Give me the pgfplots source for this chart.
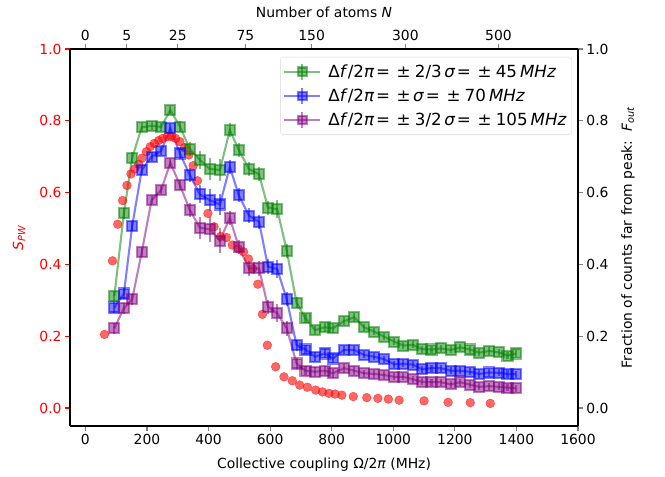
\documentclass[border=0pt]{standalone}
\usepackage{fontspec}
\setmainfont{DejaVu Sans}
\usepackage{pgfplots}
\pgfplotsset{compat=1.18}
\usepackage{pgfplotstable}

\definecolor{mgreen}{RGB}{0,128,0}
\definecolor{mblue}{RGB}{0,0,255}
\definecolor{mpurple}{RGB}{128,0,128}

\pgfplotstableread{
x y e
94 .312 .015
125 .542 .015
152 .697 .015
183 .782 .012
215 .786 .012
246 .783 .012
276 .830 .012
307 .784 .015
339 .722 .02
372 .691 .025
404 .666 .03
437 .663 .03
469 .774 .02
498 .719 .02
531 .666 .02
564 .651 .02
593 .558 .02
623 .554 .025
654 .438 .02
686 .293 .015
715 .250 .012
746 .217 .012
777 .225 .012
804 .222 .012
840 .242 .012
873 .253 .012
905 .225 .01
938 .213 .01
970 .199 .01
1003 .185 .01
1033 .174 .01
1064 .176 .01
1093 .164 .01
1124 .163 .01
1154 .166 .01
1187 .162 .01
1217 .169 .01
1250 .163 .01
1279 .154 .01
1312 .159 .01
1344 .155 .01
1371 .146 .01
1398 .152 .01
}\greendata

\pgfplotstableread{
x y e
94 .280 .015
125 .319 .015
152 .507 .015
183 .663 .012
215 .700 .012
246 .716 .012
276 .779 .012
307 .709 .015
339 .649 .02
372 .595 .025
404 .579 .03
437 .567 .03
469 .672 .02
498 .593 .02
531 .536 .02
564 .519 .02
593 .394 .02
623 .387 .025
654 .303 .02
686 .175 .015
715 .163 .012
746 .143 .012
777 .152 .012
804 .138 .012
840 .162 .012
873 .162 .012
905 .148 .01
938 .143 .01
970 .136 .01
1003 .122 .01
1033 .123 .01
1064 .121 .01
1093 .108 .01
1124 .111 .01
1154 .111 .01
1187 .104 .01
1217 .104 .01
1250 .101 .01
1279 .095 .01
1312 .099 .01
1344 .098 .01
1371 .095 .01
1398 .094 .01
}\bluedata

\pgfplotstableread{
x y e
94 .222 .015
125 .278 .015
152 .303 .015
183 .434 .012
215 .579 .012
246 .607 .012
276 .683 .012
307 .621 .015
339 .552 .02
372 .502 .03
404 .498 .035
437 .466 .035
469 .530 .02
498 .449 .02
531 .389 .02
564 .389 .02
593 .282 .02
623 .264 .025
654 .222 .02
686 .124 .015
715 .104 .012
746 .101 .012
777 .104 .012
804 .097 .012
840 .111 .012
873 .104 .012
905 .097 .01
938 .095 .01
970 .092 .01
1003 .087 .01
1033 .087 .01
1064 .080 .01
1093 .073 .01
1124 .072 .01
1154 .072 .01
1187 .066 .01
1217 .072 .01
1250 .065 .01
1279 .059 .01
1312 .061 .01
1344 .059 .01
1371 .057 .01
1398 .055 .01
}\purpledata

\pgfplotstableread{
x y
62 .205
88 .410
105 .512
121 .578
135 .620
148 .652
160 .666
173 .679
184 .696
198 .714
211 .728
224 .737
238 .745
251 .751
266 .756
280 .756
293 .751
307 .742
322 .725
336 .705
350 .675
364 .633
398 .542
418 .505
439 .478
458 .475
477 .454
497 .443
514 .435
530 .415
543 .388
560 .345
575 .261
591 .175
618 .115
645 .087
672 .076
696 .064
721 .058
748 .050
770 .045
791 .041
811 .039
833 .036
870 .032
914 .029
950 .027
984 .025
1019 .022
1100 .020
1178 .016
1250 .015
1315 .013
}\reddata

\begin{document}
\begin{tikzpicture}[font=\fontsize{13.9bp}{16bp}\selectfont]
\pgfplotsset{
  every axis/.append style={
    scale only axis, width=508bp, height=377bp,
    xmin=-50, xmax=1600, ymin=-0.05, ymax=1.0,
    tick align=outside, major tick length=4.9bp,
    every tick/.append style={line width=1.1bp},
    axis line style={line width=1.1bp, black},
    /pgf/number format/assume math mode=true,
    minor tick num=0,
  },
}
\begin{axis}[
  axis x line*=bottom, axis y line*=left,
  xtick={0,200,400,600,800,1000,1200,1400,1600},
  ytick={0,0.2,0.4,0.6,0.8,1},
  xticklabel style={/pgf/number format/1000 sep={}},
  yticklabel style={red, /pgf/number format/fixed, /pgf/number format/fixed zerofill, /pgf/number format/precision=1},
  y tick style={red},
  xlabel={Collective coupling Ω/2\textit{π} (MHz)},
  xlabel style={at={(axis description cs:0.5,-0.1034)}, anchor=center},
  ylabel={\textcolor{red}{\textit{S}\textsubscript{\textit{PW}}}},
  ylabel style={at={(axis description cs:-0.1004,0.5)}, anchor=center},
  legend style={at={(axis description cs:0.988,0.979)}, anchor=north east,
    draw=black!15, rounded corners=3bp, fill=white, fill opacity=0.8, text opacity=1,
    inner xsep=3bp, inner ysep=5.5bp, row sep=6bp, cells={anchor=west},
    font=\fontsize{16.7bp}{19bp}\selectfont},
  legend image code/.code={
    \draw[#1, mark=none] (0bp,0bp) -- (36bp,0bp);
    \draw[#1, mark=none] (18bp,-8bp) -- (18bp,8bp);
    \draw[#1, only marks, mark size=4.2bp] plot coordinates {(18bp,0bp)};
  },
]
\coordinate (SW) at (rel axis cs:0,0);
\coordinate (NE) at (rel axis cs:1,1);

\addplot[only marks, mark=*, mark size=4.4bp, color=red, opacity=0.6, forget plot] table[x=x, y=y] {\reddata};

\addplot[color=mgreen, opacity=0.5, line width=2.1bp, mark=square*, mark size=5bp,
  error bars/.cd, y dir=both, y explicit, error mark=none,
  error bar style={line width=2.1bp, mgreen}]
  table[x=x, y=y, y error=e] {\greendata};
\addlegendentry{\hspace{5bp}Δ\textit{f}/2\textit{π}\hspace{0.1em}=\hspace{0.4em}±\hspace{0.25em}2/3\hspace{0.15em}\textit{σ}\hspace{0.1em}=\hspace{0.4em}±\hspace{0.25em}45\hspace{0.18em}\textit{MHz}}

\addplot[color=mblue, opacity=0.5, line width=2.1bp, mark=square*, mark size=5bp,
  error bars/.cd, y dir=both, y explicit, error mark=none,
  error bar style={line width=2.1bp, mblue}]
  table[x=x, y=y, y error=e] {\bluedata};
\addlegendentry{\hspace{5bp}Δ\textit{f}/2\textit{π}\hspace{0.1em}=\hspace{0.4em}±\hspace{0.15em}\textit{σ}\hspace{0.1em}=\hspace{0.4em}±\hspace{0.25em}70\hspace{0.18em}\textit{MHz}}

\addplot[color=mpurple, opacity=0.5, line width=2.1bp, mark=square*, mark size=5bp,
  error bars/.cd, y dir=both, y explicit, error mark=none,
  error bar style={line width=2.1bp, mpurple}]
  table[x=x, y=y, y error=e] {\purpledata};
\addlegendentry{\hspace{5bp}Δ\textit{f}/2\textit{π}\hspace{0.1em}=\hspace{0.4em}±\hspace{0.25em}3/2\hspace{0.15em}\textit{σ}\hspace{0.1em}=\hspace{0.4em}±\hspace{0.25em}105\hspace{0.18em}\textit{MHz}}
\end{axis}

\begin{axis}[
  axis x line*=top, axis y line*=right,
  xtick={0,134.16,300,519.62,734.85,1039.23,1341.64},
  xticklabels={0,5,25,75,150,300,500},
  ytick={0,0.2,0.4,0.6,0.8,1},
  yticklabel style={/pgf/number format/fixed, /pgf/number format/fixed zerofill, /pgf/number format/precision=1},
  xlabel={Number of atoms \textit{N}},
  xlabel style={at={(axis description cs:0.5,1.098)}, anchor=center},
  ylabel={Fraction of counts far from peak:\ \ \textit{F}\textsubscript{\textit{out}}},
  ylabel style={at={(axis description cs:1.0984,0.5)}, anchor=center, rotate=0},
]
\end{axis}
\pgfresetboundingbox
\path[use as bounding box] ([shift={(-70bp,-51bp)}]SW) rectangle ([shift={(87bp,49bp)}]NE);
\end{tikzpicture}
\end{document}
